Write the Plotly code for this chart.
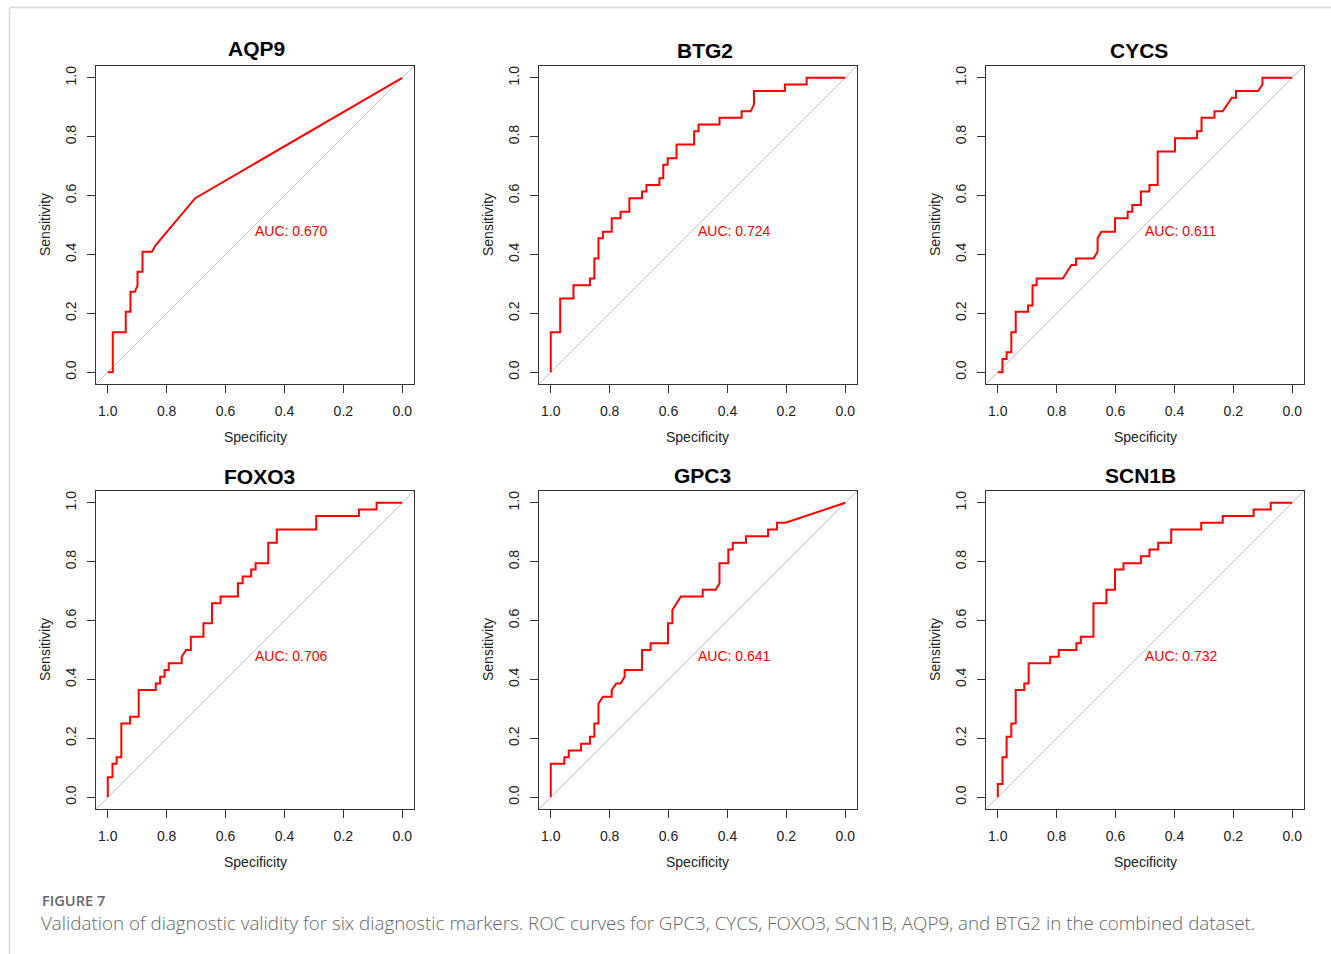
import plotly.graph_objects as go

# ROC vertices (specificity, sensitivity) for each diagnostic marker
AQP9_SPEC = [1.0, 0.983, 0.983, 0.939, 0.939, 0.923, 0.923, 0.908, 0.899, 0.899, 0.882, 0.882, 0.850, 0.837, 0.703, 0.0]
AQP9_SENS = [0.0, 0.0, 0.136, 0.136, 0.205, 0.205, 0.273, 0.273, 0.295, 0.341, 0.341, 0.409, 0.409, 0.432, 0.591, 1.0]

BTG2_SPEC = [1.0, 1.0, 0.968, 0.968, 0.923, 0.923, 0.867, 0.867, 0.852, 0.852, 0.838, 0.838, 0.823, 0.823,
             0.793, 0.793, 0.763, 0.763, 0.733, 0.733, 0.690, 0.690, 0.675, 0.675, 0.631, 0.631, 0.618, 0.618,
             0.603, 0.603, 0.573, 0.573, 0.513, 0.513, 0.498, 0.498, 0.427, 0.427, 0.352, 0.352, 0.321, 0.310,
             0.310, 0.205, 0.205, 0.131, 0.131, 0.0]
BTG2_SENS = [0.0, 0.136, 0.136, 0.250, 0.250, 0.295, 0.295, 0.318, 0.318, 0.386, 0.386, 0.455, 0.455, 0.477,
             0.477, 0.523, 0.523, 0.545, 0.545, 0.591, 0.591, 0.614, 0.614, 0.636, 0.636, 0.659, 0.659, 0.705,
             0.705, 0.727, 0.727, 0.773, 0.773, 0.818, 0.818, 0.841, 0.841, 0.864, 0.864, 0.886, 0.886, 0.909,
             0.955, 0.955, 0.977, 0.977, 1.0, 1.0]

CYCS_SPEC = [1.0, 0.984, 0.984, 0.970, 0.970, 0.954, 0.954, 0.939, 0.939, 0.897, 0.897, 0.882, 0.882, 0.868,
             0.868, 0.779, 0.750, 0.734, 0.734, 0.675, 0.661, 0.661, 0.648, 0.602, 0.602, 0.559, 0.559, 0.543,
             0.543, 0.514, 0.514, 0.485, 0.485, 0.457, 0.457, 0.398, 0.398, 0.323, 0.323, 0.308, 0.308, 0.264,
             0.264, 0.236, 0.205, 0.191, 0.191, 0.116, 0.101, 0.101, 0.0]
CYCS_SENS = [0.0, 0.0, 0.045, 0.045, 0.068, 0.068, 0.136, 0.136, 0.205, 0.205, 0.227, 0.227, 0.295, 0.295,
             0.318, 0.318, 0.364, 0.364, 0.386, 0.386, 0.409, 0.455, 0.477, 0.477, 0.523, 0.523, 0.545, 0.545,
             0.568, 0.568, 0.614, 0.614, 0.636, 0.636, 0.750, 0.750, 0.795, 0.795, 0.818, 0.818, 0.864, 0.864,
             0.886, 0.886, 0.932, 0.932, 0.955, 0.955, 0.977, 1.0, 1.0]

FOXO3_SPEC = [1.0, 1.0, 0.984, 0.984, 0.970, 0.970, 0.954, 0.954, 0.924, 0.924, 0.895, 0.895, 0.837, 0.837,
              0.822, 0.822, 0.807, 0.807, 0.793, 0.793, 0.749, 0.749, 0.734, 0.718, 0.718, 0.675, 0.675, 0.646,
              0.646, 0.617, 0.617, 0.558, 0.558, 0.542, 0.542, 0.513, 0.513, 0.498, 0.498, 0.455, 0.455, 0.426,
              0.426, 0.292, 0.292, 0.147, 0.147, 0.087, 0.087, 0.0]
FOXO3_SENS = [0.0, 0.068, 0.068, 0.114, 0.114, 0.136, 0.136, 0.250, 0.250, 0.273, 0.273, 0.364, 0.364, 0.386,
              0.386, 0.409, 0.409, 0.432, 0.432, 0.455, 0.455, 0.477, 0.500, 0.500, 0.545, 0.545, 0.591, 0.591,
              0.659, 0.659, 0.682, 0.682, 0.727, 0.727, 0.750, 0.750, 0.773, 0.773, 0.795, 0.795, 0.864, 0.864,
              0.909, 0.909, 0.955, 0.955, 0.977, 0.977, 1.0, 1.0]

GPC3_SPEC = [1.0, 1.0, 0.954, 0.954, 0.939, 0.939, 0.897, 0.897, 0.867, 0.867, 0.852, 0.852, 0.838, 0.838,
             0.823, 0.793, 0.793, 0.778, 0.763, 0.749, 0.749, 0.690, 0.690, 0.661, 0.661, 0.602, 0.602, 0.587,
             0.587, 0.558, 0.484, 0.484, 0.440, 0.427, 0.427, 0.397, 0.397, 0.382, 0.382, 0.337, 0.337, 0.262,
             0.262, 0.232, 0.232, 0.203, 0.0]
GPC3_SENS = [0.0, 0.114, 0.114, 0.136, 0.136, 0.159, 0.159, 0.182, 0.182, 0.205, 0.205, 0.250, 0.250, 0.318,
             0.341, 0.341, 0.364, 0.386, 0.386, 0.409, 0.432, 0.432, 0.500, 0.500, 0.523, 0.523, 0.591, 0.591,
             0.636, 0.682, 0.682, 0.705, 0.705, 0.727, 0.795, 0.795, 0.841, 0.841, 0.864, 0.864, 0.886, 0.886,
             0.909, 0.909, 0.932, 0.932, 1.0]

SCN1B_SPEC = [1.0, 1.0, 0.984, 0.984, 0.970, 0.970, 0.954, 0.954, 0.939, 0.939, 0.910, 0.910, 0.895, 0.895,
              0.822, 0.822, 0.793, 0.793, 0.733, 0.733, 0.718, 0.718, 0.675, 0.675, 0.631, 0.631, 0.602, 0.602,
              0.573, 0.573, 0.514, 0.514, 0.485, 0.485, 0.455, 0.455, 0.411, 0.411, 0.309, 0.309, 0.236, 0.236,
              0.131, 0.131, 0.073, 0.073, 0.0]
SCN1B_SENS = [0.0, 0.045, 0.045, 0.136, 0.136, 0.205, 0.205, 0.250, 0.250, 0.364, 0.364, 0.386, 0.386, 0.455,
              0.455, 0.477, 0.477, 0.500, 0.500, 0.523, 0.523, 0.545, 0.545, 0.659, 0.659, 0.705, 0.705, 0.773,
              0.773, 0.795, 0.795, 0.818, 0.818, 0.841, 0.841, 0.864, 0.864, 0.909, 0.909, 0.932, 0.932, 0.955,
              0.955, 0.977, 0.977, 1.0, 1.0]

MARKERS = ["AQP9", "BTG2", "CYCS", "FOXO3", "GPC3", "SCN1B"]
AUC_VALUES = [0.670, 0.724, 0.611, 0.706, 0.641, 0.732]
CURVES = {
    "AQP9": (AQP9_SPEC, AQP9_SENS),
    "BTG2": (BTG2_SPEC, BTG2_SENS),
    "CYCS": (CYCS_SPEC, CYCS_SENS),
    "FOXO3": (FOXO3_SPEC, FOXO3_SENS),
    "GPC3": (GPC3_SPEC, GPC3_SENS),
    "SCN1B": (SCN1B_SPEC, SCN1B_SENS),
}
TICKS = [0.0, 0.2, 0.4, 0.6, 0.8, 1.0]

# ---- page geometry (pixels) ----
W, H = 1331, 954
COL_LEFT = [96, 539, 986]
ROW_TOP = [66, 491]
BOX = 318
PAD = 0.04  # axis expansion beyond [0, 1]
# horizontal centre and vertical position of each panel title
TITLE_X = [256, 705, 1139, 259, 702, 1140]
TITLE_Y = [49, 50, 50, 476, 475, 475]

FONT = "Liberation Sans, Arial, Helvetica, sans-serif"
AXIS_COLOR = "#333333"
TEXT_COLOR = "#222222"


def px_x(x):
    return x / W


def px_y(y):
    return 1 - y / H


fig = go.Figure()
annotations = []

for i, name in enumerate(MARKERS):
    row, col = divmod(i, 3)
    idx = "" if i == 0 else str(i + 1)
    xa, ya = "x" + idx, "y" + idx
    left, top = COL_LEFT[col], ROW_TOP[row]

    # chance diagonal spanning the whole panel
    diag_x = [1 + PAD, -PAD]
    fig.add_trace(go.Scatter(
        x=diag_x, y=[1 - v for v in diag_x], mode="lines",
        line=dict(color="#c4c4c4", width=1), xaxis=xa, yaxis=ya,
        hoverinfo="skip", showlegend=False))

    spec, sens = CURVES[name]
    fig.add_trace(go.Scatter(
        x=spec, y=sens, mode="lines", line=dict(color="#ff0000", width=2),
        xaxis=xa, yaxis=ya, showlegend=False, name=name))

    axis_common = dict(
        showgrid=False, zeroline=False, showline=True, mirror=True,
        linecolor=AXIS_COLOR, linewidth=1, ticks="outside", ticklen=8, tickwidth=1,
        tickcolor=AXIS_COLOR, tickvals=TICKS, tickformat=".1f",
        tickfont=dict(family=FONT, size=14, color=TEXT_COLOR),
    )
    fig.layout["xaxis" + idx] = dict(
        axis_common, range=[1 + PAD, -PAD], anchor=ya,
        domain=[px_x(left), px_x(left + BOX)], ticklabelstandoff=6)
    fig.layout["yaxis" + idx] = dict(
        axis_common, range=[-PAD, 1 + PAD], anchor=xa, tickangle=-90,
        domain=[px_y(top + BOX), px_y(top)], ticklabelstandoff=5)

    # panel title
    annotations.append(dict(
        text=f"<b>{name}</b>", x=px_x(TITLE_X[i]), y=px_y(TITLE_Y[i]),
        xref="paper", yref="paper", showarrow=False, xanchor="center", yanchor="middle",
        font=dict(family=FONT, size=21, color="#000000")))
    # axis titles
    annotations.append(dict(
        text="Specificity", x=px_x(left + BOX / 2), y=px_y(top + BOX + 53),
        xref="paper", yref="paper", showarrow=False, xanchor="center", yanchor="middle",
        font=dict(family=FONT, size=14, color=TEXT_COLOR)))
    annotations.append(dict(
        text="Sensitivity", x=px_x(left - 51), y=px_y(top + BOX / 2), textangle=-90,
        xref="paper", yref="paper", showarrow=False, xanchor="center", yanchor="middle",
        font=dict(family=FONT, size=14, color=TEXT_COLOR)))
    # AUC label
    annotations.append(dict(
        text=f"AUC: {AUC_VALUES[i]:.3f}", x=0.5, y=0.48, xref=xa, yref=ya, xshift=-2,
        showarrow=False, xanchor="left", yanchor="middle",
        font=dict(family=FONT, size=14, color="#ff0000")))

# figure caption
CAPTION_FONT = "Open Sans, Lato, sans-serif"
CAPTION_TEXT = ("Validation of diagnostic validity for six diagnostic markers. ROC curves for GPC3, CYCS, "
                "FOXO3, SCN1B, AQP9, and BTG2 in the combined dataset.")
annotations.append(dict(
    text="FIGURE 7", x=px_x(41), y=px_y(899.5), xref="paper", yref="paper",
    showarrow=False, xanchor="left", yanchor="middle", borderpad=0,
    font=dict(family=CAPTION_FONT, size=14.6, color="#666666", weight=600)))
annotations.append(dict(
    text=CAPTION_TEXT, x=px_x(40), y=px_y(922.5), xref="paper", yref="paper",
    showarrow=False, xanchor="left", yanchor="middle", borderpad=0,
    font=dict(family=CAPTION_FONT, size=18.8, color="#666666", weight=300)))

# page frame lines
shapes = [
    dict(type="line", xref="paper", yref="paper", x0=px_x(10), x1=1, y0=px_y(7.5), y1=px_y(7.5),
         line=dict(color="#d8d8d8", width=1.5)),
    dict(type="line", xref="paper", yref="paper", x0=px_x(9.5), x1=px_x(9.5), y0=px_y(7.5), y1=0,
         line=dict(color="#d8d8d8", width=1.5)),
]

fig.update_layout(
    width=W, height=H, autosize=False,
    margin=dict(l=0, r=0, t=0, b=0),
    paper_bgcolor="#ffffff", plot_bgcolor="#ffffff",
    annotations=annotations, shapes=shapes, showlegend=False,
)

fig.write_html("out.html", config={"displayModeBar": False})
